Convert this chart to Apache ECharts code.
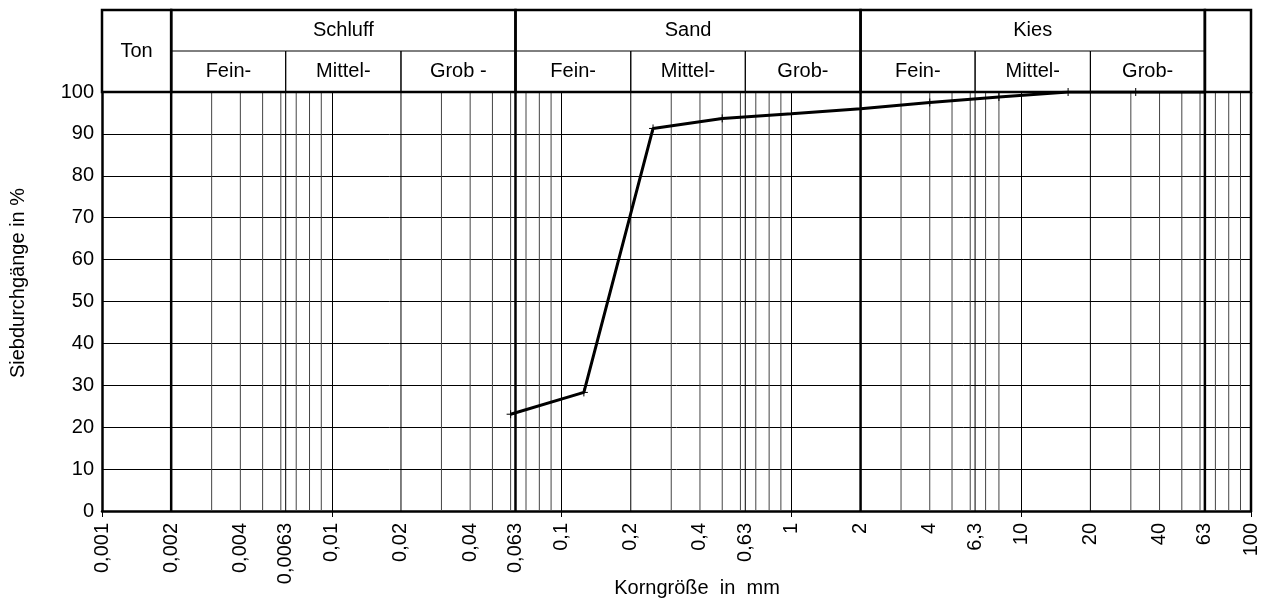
<!DOCTYPE html>
<html><head><meta charset="utf-8">
<script src="https://cdn.jsdelivr.net/npm/echarts@6/dist/echarts.min.js"></script>
<style>html,body{margin:0;padding:0;background:#fff}#c{width:1268px;height:598px}</style>
</head><body><div id="c"></div>
<script>
const groupNames = ['Ton', 'Schluff', 'Sand', 'Kies', ''];
const groupBounds = [0.001, 0.002, 0.063, 2, 63, 100];
const subNames = ['Fein-', 'Mittel-', 'Grob -', 'Fein-', 'Mittel-', 'Grob-', 'Fein-', 'Mittel-', 'Grob-'];
const subBounds = [0.002, 0.0063, 0.02, 0.063, 0.2, 0.63, 2, 6.3, 20, 63];
const tickValues = [0.001, 0.002, 0.004, 0.0063, 0.01, 0.02, 0.04, 0.063, 0.1, 0.2, 0.4, 0.63, 1, 2, 4, 6.3, 10, 20, 40, 63, 100];
const tickLabels = ['0,001', '0,002', '0,004', '0,0063', '0,01', '0,02', '0,04', '0,063', '0,1', '0,2', '0,4', '0,63', '1', '2', '4', '6,3', '10', '20', '40', '63', '100'];
const minorLines = [0.003, 0.004, 0.005, 0.006, 0.007, 0.008, 0.009,
  0.03, 0.04, 0.05, 0.06, 0.07, 0.08, 0.09,
  0.3, 0.4, 0.5, 0.6, 0.7, 0.8, 0.9,
  3, 4, 5, 6, 7, 8,
  30, 40, 50, 60, 70, 80, 90];
const subLines = [0.0063, 0.02, 0.2, 0.63, 6.3, 20];
const thickLines = [0.002, 0.063, 2, 63, 100];
const sieveSizes = [0.06, 0.125, 0.25, 0.5, 1, 2, 4, 8, 16, 31.5, 63];
const passing = [23.1, 28.3, 91.3, 93.7, 94.8, 96.0, 97.5, 98.8, 100, 100, 100];
const yTitle = 'Siebdurchgänge in %';
const xTitle = 'Korngröße  in  mm';

const FONT = "'Liberation Sans', Arial, sans-serif";
const FS = 20;
const chart = echarts.init(document.getElementById('c'), null, {renderer: 'canvas'});

function vline(width, color) {
  return function (params, api) {
    const a = api.coord([api.value(0), 0]);
    const b = api.coord([api.value(0), 100]);
    return {type: 'line', shape: {x1: a[0], y1: a[1], x2: b[0], y2: b[1]},
      style: {stroke: color, lineWidth: width}};
  };
}

const option = {
  animation: false,
  grid: [
    {left: 102, right: 17, top: 92, bottom: 87},
    {left: 102, right: 17, top: 10, height: 82}
  ],
  xAxis: [
    {type: 'log', logBase: 10, min: 0.001, max: 100, gridIndex: 0,
      axisLine: {show: true, lineStyle: {color: '#000', width: 2.5}},
      axisTick: {show: true, length: 6, lineStyle: {color: '#000', width: 1}},
      axisLabel: {show: false},
      minorTick: {show: false},
      splitLine: {show: true, lineStyle: {color: '#000', width: 1}}},
    {type: 'log', logBase: 10, min: 0.001, max: 100, gridIndex: 1, show: false}
  ],
  yAxis: [
    {type: 'value', min: 0, max: 100, interval: 10, gridIndex: 0,
      axisLine: {show: true, lineStyle: {color: '#000', width: 2.5}},
      axisTick: {show: false},
      axisLabel: {color: '#000', fontSize: FS, fontFamily: FONT, margin: 8},
      splitLine: {show: true, lineStyle: {color: '#000', width: 1}}},
    {type: 'value', min: 0, max: 2, gridIndex: 1, show: false}
  ],
  graphic: [
    {type: 'text', x: 18, y: 283, rotation: Math.PI / 2,
      style: {text: yTitle, fontSize: FS, fontFamily: FONT, fill: '#000', align: 'center', verticalAlign: 'middle'}},
    {type: 'text', x: 697, y: 588,
      style: {text: xTitle, fontSize: FS, fontFamily: FONT, fill: '#000', align: 'center', verticalAlign: 'middle'}}
  ],
  series: [
    {type: 'custom', xAxisIndex: 0, yAxisIndex: 0, silent: true, z: 2,
      data: minorLines.map(v => [v, 0]), renderItem: vline(1, '#444')},
    {type: 'custom', xAxisIndex: 0, yAxisIndex: 0, silent: true, z: 3,
      data: subLines.map(v => [v, 0]), renderItem: vline(1, '#000')},
    {type: 'custom', xAxisIndex: 0, yAxisIndex: 0, silent: true, z: 4,
      data: thickLines.map(v => [v, 0]), renderItem: vline(2.5, '#000')},
    {type: 'custom', xAxisIndex: 0, yAxisIndex: 0, silent: true, z: 5,
      data: tickValues.map(v => [v, 0]),
      renderItem: function (params, api) {
        const p = api.coord([api.value(0), 0]);
        return {type: 'text', x: p[0], y: p[1] + 12, rotation: Math.PI / 2,
          style: {text: tickLabels[params.dataIndex], fontSize: FS, fontFamily: FONT, fill: '#000',
            align: 'right', verticalAlign: 'middle'}};
      }},
    {type: 'custom', xAxisIndex: 1, yAxisIndex: 1, silent: true, z: 3,
      data: subNames.map((n, i) => [subBounds[i], subBounds[i + 1]]),
      renderItem: function (params, api) {
        const a = api.coord([api.value(0), 1]);
        const b = api.coord([api.value(1), 0]);
        return {type: 'group', children: [
          {type: 'rect', shape: {x: a[0], y: a[1], width: b[0] - a[0], height: b[1] - a[1]},
            style: {fill: 'none', stroke: '#000', lineWidth: 1}},
          {type: 'text', x: (a[0] + b[0]) / 2, y: (a[1] + b[1]) / 2,
            style: {text: subNames[params.dataIndex], fontSize: FS, fontFamily: FONT, fill: '#000',
              align: 'center', verticalAlign: 'middle'}}
        ]};
      }},
    {type: 'custom', xAxisIndex: 1, yAxisIndex: 1, silent: true, z: 4,
      data: groupNames.map((n, i) => [groupBounds[i], groupBounds[i + 1]]),
      renderItem: function (params, api) {
        const i = params.dataIndex;
        const a = api.coord([api.value(0), 2]);
        const b = api.coord([api.value(1), 0]);
        const ty = api.coord([api.value(0), i === 0 ? 1 : 1.5])[1];
        return {type: 'group', children: [
          {type: 'rect', shape: {x: a[0], y: a[1], width: b[0] - a[0], height: b[1] - a[1]},
            style: {fill: 'none', stroke: '#000', lineWidth: 2.5}},
          {type: 'text', x: (a[0] + b[0]) / 2, y: ty,
            style: {text: groupNames[i], fontSize: FS, fontFamily: FONT, fill: '#000',
              align: 'center', verticalAlign: 'middle'}}
        ]};
      }},
    {type: 'line', xAxisIndex: 0, yAxisIndex: 0, z: 10,
      data: sieveSizes.map((s, i) => [s, passing[i]]),
      lineStyle: {color: '#000', width: 3},
      symbol: 'path://M0,5L10,5M5,0L5,10', symbolSize: 8, showAllSymbol: true,
      itemStyle: {color: 'none', borderColor: '#000', borderWidth: 1}}
  ]
};
chart.setOption(option);
</script>
</body></html>
